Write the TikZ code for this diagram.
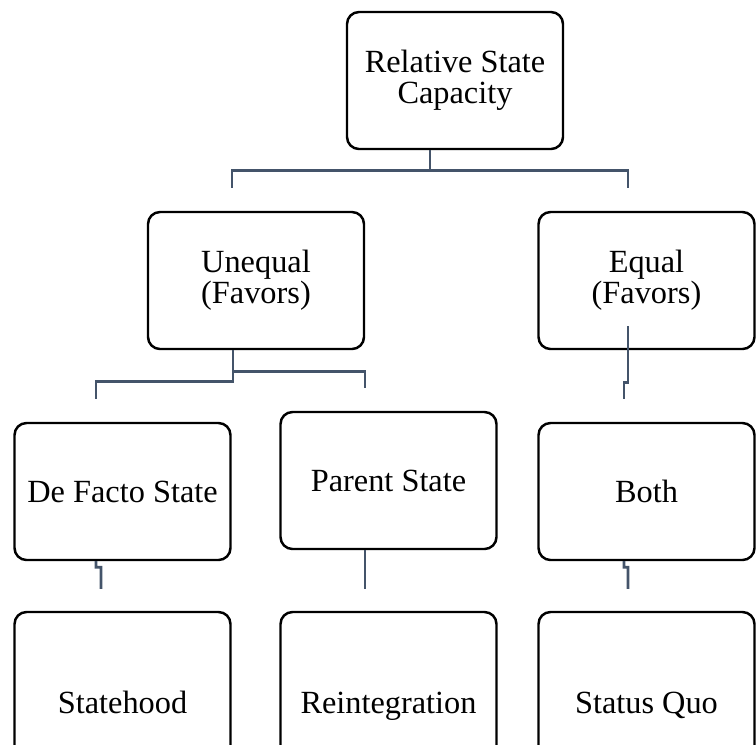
\documentclass[tikz,border=0pt]{standalone}
\usepackage{fontspec}
\setmainfont{Liberation Serif}
\usetikzlibrary{calc}

\definecolor{linkslate}{RGB}{68,84,106}

\begin{document}
\begin{tikzpicture}[
    box/.style={draw=black, rounded corners=0.24cm, line width=1.4pt,
      minimum width=4.32cm, minimum height=2.74cm, align=center,
      font=\fontsize{18.4}{17.6}\selectfont},
    tallbox/.style={box, minimum height=3.76cm, text height=1.12em, text depth=0.22em},
    link/.style={linkslate, line width=1.5pt}
  ]

  \useasboundingbox (0,0) rectangle (15.12,-14.88);
  \clip (0,0) rectangle (15.12,-14.88);

  % top
  \node[box] (capacity) at (9.10,-1.61) {Relative State\\Capacity};

  % second row
  \node[box] (unequal) at (5.12,-5.61) {Unequal\\(Favors)};
  \node[box] (equal) at (12.93,-5.61) {Equal\\(Favors)};

  % third row
  \node[box] (defacto) at (2.45,-9.83) {De Facto State};
  \node[box] (parent) at (7.77,-9.61) {Parent State};
  \node[box] (both) at (12.93,-9.83) {Both};

  % outcomes
  \node[tallbox] (statehood) at (2.45,-14.12) {Statehood};
  \node[tallbox] (reintegration) at (7.77,-14.12) {Reintegration};
  \node[tallbox] (statusquo) at (12.93,-14.12) {Status Quo};

  % capacity -> unequal / equal
  \coordinate (capfork) at ($(capacity.south)+(-0.50,-0.40)$);
  \coordinate (unequalin) at ($(unequal.north)+(-0.48,0.46)$);
  \coordinate (equalin) at ($(equal.north)+(-0.37,0.46)$);
  \draw[link] ([xshift=-0.5cm]capacity.south) -- (capfork);
  \draw[link] (unequalin) |- (capfork) -| (equalin);

  % unequal -> de facto / parent
  \coordinate (defactoin) at ($(defacto.north)+(-0.53,0.46)$);
  \coordinate (parentin) at ($(parent.north)+(-0.47,0.46)$);
  \draw[link] ([xshift=-0.46cm]unequal.south) -- ++(0,-0.62) -| (defactoin);
  \draw[link] ([xshift=-0.46cm,yshift=-0.42cm]unequal.south) -| (parentin);

  % equal -> both
  \coordinate (bothin) at ($(both.north)+(-0.45,0.46)$);
  \draw[link] ([xshift=-0.37cm,yshift=0.48cm]equal.south) -- ++(0,-1.12)
    -| (bothin);

  % outcomes
  \draw[link] ([xshift=-0.53cm]defacto.south) -- ++(0,-0.12) -- ++(0.10,0)
    -- ([xshift=-0.43cm,yshift=0.44cm]statehood.north);
  \draw[link] ([xshift=-0.47cm]parent.south)
    -- ([xshift=-0.47cm,yshift=0.44cm]reintegration.north);
  \draw[link] ([xshift=-0.45cm]both.south) -- ++(0,-0.12) -- ++(0.08,0)
    -- ([xshift=-0.37cm,yshift=0.44cm]statusquo.north);

\end{tikzpicture}
\end{document}
